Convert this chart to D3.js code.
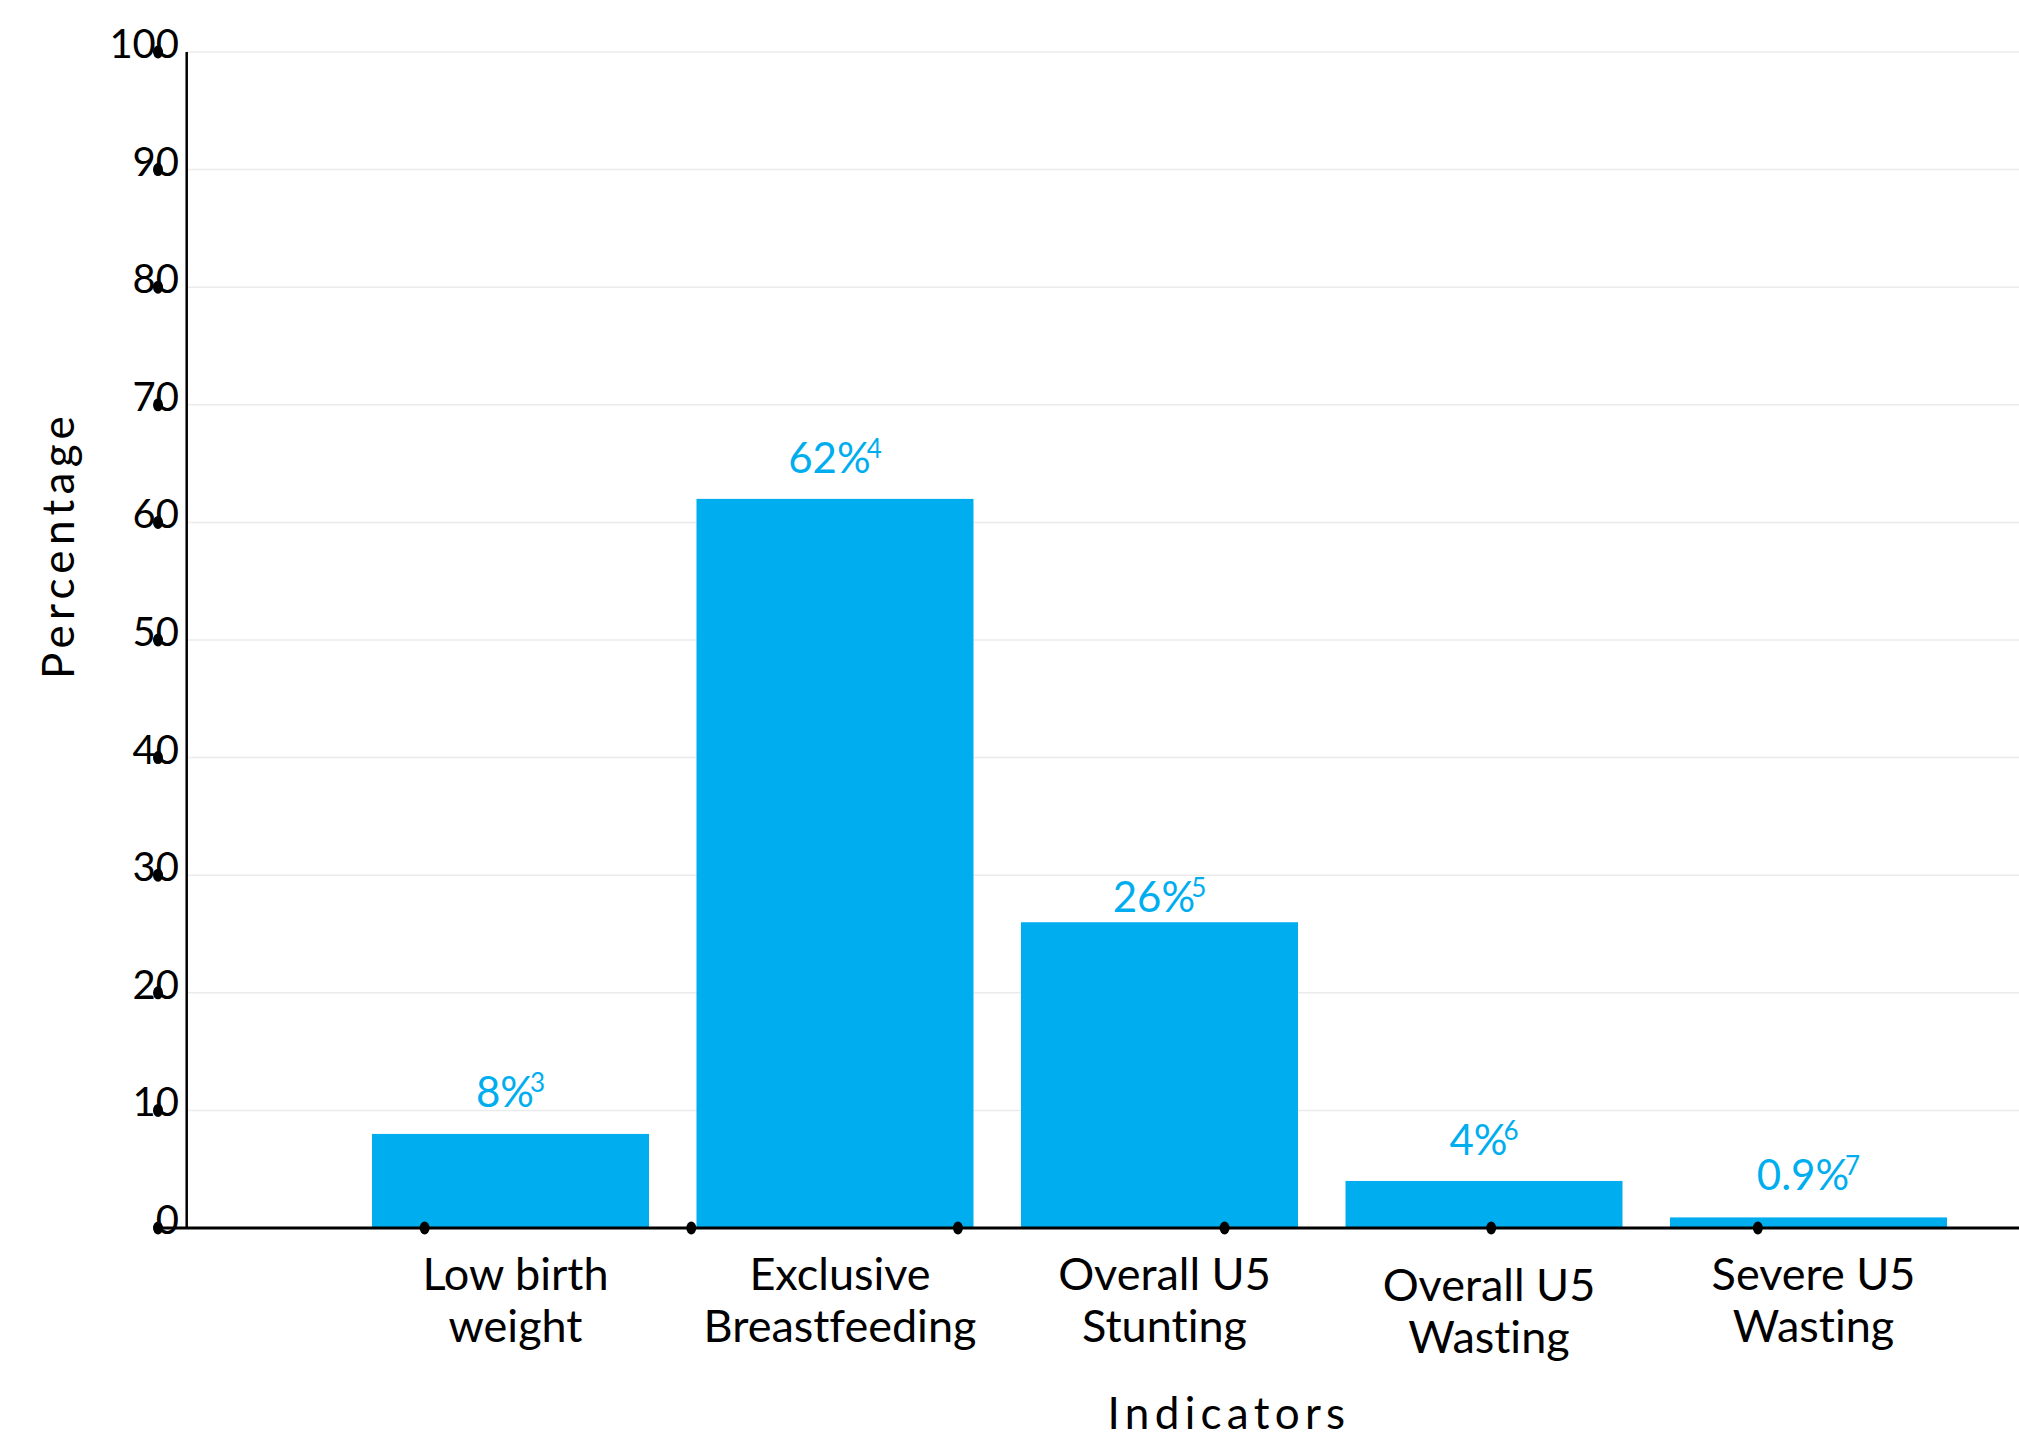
<!DOCTYPE html>
<html>
<head>
<meta charset="utf-8">
<script src="https://cdn.jsdelivr.net/npm/d3@7/dist/d3.min.js"></script>
<style>
  html, body { margin: 0; padding: 0; background: #fff; overflow: hidden; }
  svg { display: block; font-family: Lato, "Open Sans", sans-serif; font-variant-ligatures: none; font-feature-settings: "liga" 0; }
</style>
</head>
<body>
<svg id="chart" width="2019" height="1442"></svg>
<script>
// ---- data ----
const categories = [
  ["Low birth", "weight"],
  ["Exclusive", "Breastfeeding"],
  ["Overall U5", "Stunting"],
  ["Overall U5", "Wasting"],
  ["Severe U5", "Wasting"]
];
const values = [8, 62, 26, 4, 0.9];
const valueLabels = ["8%", "62%", "26%", "4%", "0.9%"];
const footnotes = ["3", "4", "5", "6", "7"];
const yTicks = [0, 10, 20, 30, 40, 50, 60, 70, 80, 90, 100];
const yTitle = "Percentage";
const xTitle = "Indicators";

// ---- layout (not data) ----
const labelGap = [27, 26, 10, 26, 27];
const tickLabelShift = [0, 0, 0, 11, 0];

const W = 2019, H = 1442;
const svg = d3.select("#chart");
const axisX = 186.7;
const barColor = "#00AEEF";

const y = d3.scaleLinear().domain([0, 100]).range([1228, 52]);
const keys = categories.map(c => c.join(" "));
const x = d3.scaleBand().domain(keys).range([axisX, 2132.3])
  .paddingInner(0.1464).paddingOuter(0.571);
const dotScale = d3.scaleLinear().domain([0, 7]).range([158, 2024.5]);

// gridlines
svg.append("g").selectAll("line").data(yTicks.filter(d => d > 0)).join("line")
  .attr("x1", axisX).attr("x2", W)
  .attr("y1", d => y(d)).attr("y2", d => y(d))
  .attr("stroke", "#ebebeb").attr("stroke-width", 1.5);

// bars
svg.append("g").selectAll("rect").data(values).join("rect")
  .attr("x", (d, i) => x(keys[i]))
  .attr("width", x.bandwidth())
  .attr("y", d => y(d))
  .attr("height", d => y(0) - y(d))
  .attr("fill", barColor);

// axes lines
svg.append("line").attr("x1", axisX).attr("x2", axisX)
  .attr("y1", y(100)).attr("y2", y(0) + 1)
  .attr("stroke", "#000").attr("stroke-width", 2.5);
svg.append("line").attr("x1", 155).attr("x2", W)
  .attr("y1", y(0)).attr("y2", y(0))
  .attr("stroke", "#000").attr("stroke-width", 3);

// y tick labels
svg.append("g").selectAll("text").data(yTicks).join("text")
  .attr("x", 179).attr("y", d => y(d) + 6)
  .attr("text-anchor", "end")
  .attr("font-size", 40).attr("fill", "#000")
  .text(d => d);

// y tick dots
svg.append("g").selectAll("ellipse").data(yTicks).join("ellipse")
  .attr("cx", 158).attr("cy", d => y(d))
  .attr("rx", 5).attr("ry", 6.5).attr("fill", "#000");

// x dots
svg.append("g").selectAll("ellipse").data(d3.range(1, 7)).join("ellipse")
  .attr("cx", d => dotScale(d)).attr("cy", y(0))
  .attr("rx", 5).attr("ry", 6.5).attr("fill", "#000");

// x tick labels
const xl = svg.append("g").selectAll("text").data(categories).join("text")
  .attr("text-anchor", "middle")
  .attr("font-size", 45).attr("fill", "#000")
  .attr("transform", (d, i) => `translate(${x(keys[i]) + x.bandwidth() / 2 + 5},${1290 + tickLabelShift[i]})`);
xl.each(function(d) {
  const t = d3.select(this);
  d.forEach((line, j) => {
    t.append("tspan").attr("x", 0).attr("y", j * 52).text(line);
  });
});

// value labels
const vl = svg.append("g").selectAll("text").data(values).join("text")
  .attr("text-anchor", "middle")
  .attr("fill", barColor)
  .attr("font-size", 42)
  .attr("x", (d, i) => x(keys[i]) + x.bandwidth() / 2)
  .attr("y", (d, i) => y(d) - labelGap[i]);
vl.each(function(d, i) {
  const t = d3.select(this);
  t.append("tspan").text(valueLabels[i]);
  t.append("tspan").attr("font-size", 26).attr("dx", -4).attr("dy", -15).text(footnotes[i]);
});

// axis titles
svg.append("text")
  .attr("transform", "translate(74,545) rotate(-90)")
  .attr("text-anchor", "middle")
  .attr("font-size", 44).attr("letter-spacing", 5.3).attr("fill", "#000")
  .text(yTitle);
svg.append("text")
  .attr("x", 1229).attr("y", 1429)
  .attr("text-anchor", "middle")
  .attr("font-size", 44).attr("letter-spacing", 5.3).attr("fill", "#000")
  .text(xTitle);
</script>
</body>
</html>
